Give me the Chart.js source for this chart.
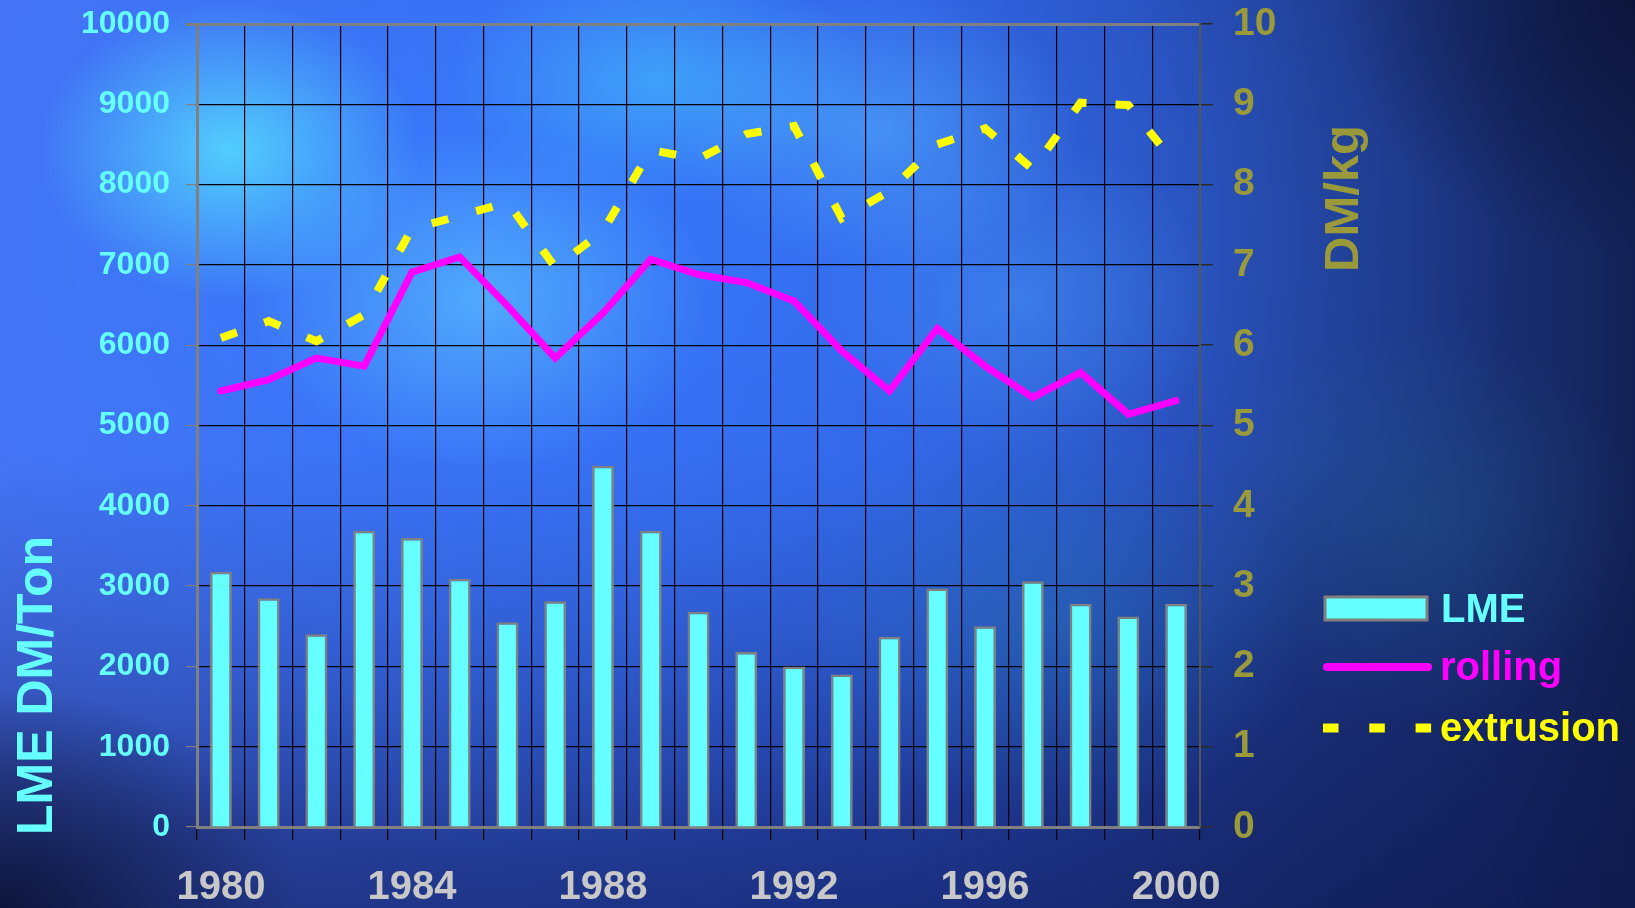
<!DOCTYPE html>
<html>
<head>
<meta charset="utf-8">
<title>LME / rolling / extrusion</title>
<script src="https://cdn.jsdelivr.net/npm/chart.js@4.4.1/dist/chart.umd.min.js"></script>
<style>
  html, body { margin: 0; padding: 0; }
  body {
    width: 1635px;
    height: 908px;
    overflow: hidden;
    background:
      radial-gradient(ellipse 190px 150px at 230px 150px, rgba(90,235,255,0.75), rgba(90,235,255,0)),
      radial-gradient(ellipse 230px 170px at 480px 300px, rgba(100,210,255,0.55), rgba(100,210,255,0)),
      radial-gradient(ellipse 210px 120px at 660px 80px, rgba(70,200,255,0.55), rgba(70,200,255,0)),
      radial-gradient(ellipse 200px 140px at 880px 130px, rgba(90,190,255,0.45), rgba(90,190,255,0)),
      radial-gradient(ellipse 200px 160px at 1020px 300px, rgba(80,170,255,0.35), rgba(80,170,255,0)),
      radial-gradient(ellipse 260px 200px at 1050px 620px, rgba(40,130,190,0.35), rgba(40,130,190,0)),
      radial-gradient(ellipse 220px 200px at 1420px 520px, rgba(40,110,150,0.30), rgba(40,110,150,0)),
      radial-gradient(ellipse 300px 260px at 1635px 0px, rgba(10,16,50,0.75), rgba(10,16,50,0)),
      radial-gradient(ellipse 300px 220px at 0px 908px, rgba(8,12,40,0.8), rgba(8,12,40,0)),
      radial-gradient(ellipse 1000px 620px at 520px 240px, rgba(55,125,255,0.85), rgba(55,125,255,0)),
      linear-gradient(180deg, rgba(0,0,0,0) 50%, rgba(12,20,70,0.6) 100%),
      linear-gradient(90deg, #4a70f0 0%, #3a66ea 30%, #2f58d8 55%, #2647b0 70%, #1f3a8e 80%, #1a3078 90%, #132256 100%);
  }
  #wrap { position: relative; width: 1635px; height: 908px; }
</style>
</head>
<body>
<div id="wrap"><canvas id="priceChart"></canvas></div>
<script>
// values
const years = ['1980', '1981', '1982', '1983', '1984', '1985', '1986', '1987', '1988', '1989', '1990',
               '1991', '1992', '1993', '1994', '1995', '1996', '1997', '1998', '1999', '2000'];
const shownYears = ['1980', '1984', '1988', '1992', '1996', '2000'];

// LME, DM/Ton (left axis)
const lme = [3180, 2850, 2400, 3690, 3600, 3090, 2550, 2810, 4500, 3690, 2680,
             2180, 2000, 1900, 2370, 2970, 2500, 3060, 2780, 2620, 2780];
// rolling and extrusion, DM/kg (right axis)
const rolling = [5.43, 5.57, 5.84, 5.74, 6.91, 7.10, 6.49, 5.84, 6.40, 7.07, 6.88,
                 6.78, 6.55, 5.93, 5.43, 6.21, 5.74, 5.35, 5.66, 5.14, 5.31];
const extrusion = [6.09, 6.30, 6.05, 6.38, 7.45, 7.61, 7.78, 6.97, 7.42, 8.43, 8.32,
                   8.63, 8.73, 7.58, 7.92, 8.50, 8.70, 8.19, 9.02, 8.99, 8.25];

const leftTitle = 'LME DM/Ton';
const rightTitle = 'DM/kg';

const FONT = '"Liberation Sans", Arial, sans-serif';
const CYAN = '#66ffff';
const OLIVE = '#9a9a3a';

// axis titles read bottom-to-top on both sides, so they are drawn here
const axisTitles = {
    id: 'axisTitles',
    afterDraw(chart) {
        const ctx = chart.ctx;
        const area = chart.chartArea;
        ctx.save();
        ctx.font = 'bold 50px ' + FONT;
        ctx.fillStyle = CYAN;
        ctx.textBaseline = 'alphabetic';
        ctx.translate(52, area.bottom + 8);
        ctx.rotate(-Math.PI / 2);
        ctx.fillText(leftTitle, 0, 0);
        ctx.restore();

        ctx.save();
        ctx.font = 'bold 49px ' + FONT;
        ctx.fillStyle = OLIVE;
        ctx.translate(area.right + 158, area.top + 248);
        ctx.rotate(-Math.PI / 2);
        ctx.fillText(rightTitle, 0, 0);
        ctx.restore();
    }
};

// legend on the right, keys taken from the datasets
const sideLegend = {
    id: 'sideLegend',
    afterDraw(chart) {
        const ctx = chart.ctx;
        const x0 = chart.chartArea.right + 125;
        const ds = chart.data.datasets;
        const rows = [608, 667, 728];
        ctx.save();
        ctx.font = 'bold 40px ' + FONT;
        ctx.textBaseline = 'alphabetic';
        ds.forEach((d, i) => {
            const y = rows[i];
            if (d.type === 'bar') {
                ctx.fillStyle = d.backgroundColor;
                ctx.fillRect(x0, y - 11, 102, 23);
                ctx.strokeStyle = d.borderColor;
                ctx.lineWidth = 3;
                ctx.strokeRect(x0, y - 11, 102, 23);
                ctx.fillStyle = d.backgroundColor;
                ctx.fillText(d.label, x0 + 116, y + 14);
            } else {
                ctx.strokeStyle = d.borderColor;
                ctx.lineWidth = d.borderDash ? 9 : 8;
                ctx.lineCap = d.borderDash ? 'butt' : 'round';
                ctx.setLineDash(d.borderDash ? [15.5, 30.8] : []);
                ctx.beginPath();
                const a = d.borderDash ? x0 - 2 : x0 + 2;
                const b = d.borderDash ? x0 + 107 : x0 + 103;
                ctx.moveTo(a, y);
                ctx.lineTo(b, y);
                ctx.stroke();
                ctx.setLineDash([]);
                ctx.fillStyle = d.borderColor;
                ctx.fillText(d.label, x0 + 115, y + 13);
            }
        });
        ctx.restore();
    }
};

// fixed plot box: 197..1200 x 24..827
function fixWidth(w) {
    return s => { s.width = w; s.paddingTop = 0; s.paddingBottom = 0; };
}

const ctx = document.getElementById('priceChart').getContext('2d');
new Chart(ctx, {
    data: {
        labels: years,
        datasets: [
            {
                type: 'bar', label: 'LME', data: lme, yAxisID: 'y', order: 3,
                backgroundColor: CYAN, borderColor: '#808080', borderWidth: 2.5,
                barPercentage: 0.46, categoryPercentage: 1
            },
            {
                type: 'line', label: 'rolling', data: rolling, yAxisID: 'y1', order: 1,
                borderColor: '#ff00ff', borderWidth: 7, pointRadius: 0, tension: 0,
                borderJoinStyle: 'miter', borderCapStyle: 'round', fill: false
            },
            {
                type: 'line', label: 'extrusion', data: extrusion, yAxisID: 'y1', order: 2,
                borderColor: '#ffff00', borderWidth: 8, borderDash: [17, 29], pointRadius: 0, tension: 0,
                borderJoinStyle: 'miter', borderCapStyle: 'butt', fill: false
            }
        ]
    },
    options: {
        responsive: true,
        maintainAspectRatio: false,
        animation: false,
        layout: { padding: { top: 24, left: 0, right: 0, bottom: 0 } },
        plugins: {
            legend: { display: false },
            tooltip: { enabled: false }
        },
        scales: {
            x: {
                type: 'category',
                offset: true,
                afterFit: s => { s.height = 81; s.paddingLeft = 0; s.paddingRight = 0; },
                grid: { color: '#000000', lineWidth: 1.2, tickLength: 13, offset: true },
                border: { color: '#808080', width: 3 },
                ticks: {
                    autoSkip: false, maxRotation: 0, padding: 24,
                    color: '#c8c8c8', font: { family: FONT, size: 40, weight: 'bold' },
                    callback: function (v) {
                        const lab = this.getLabelForValue(v);
                        return shownYears.includes(lab) ? lab : '';
                    }
                }
            },
            y: {
                position: 'left',
                min: 0, max: 10000,
                afterFit: fixWidth(197),
                grid: {
                    color: c => (c.tick && c.tick.value === 10000 ? '#808080' : '#000000'),
                    lineWidth: c => (c.tick && c.tick.value === 10000 ? 3 : 1.2),
                    tickColor: '#808080', tickLength: 11
                },
                border: { color: '#808080', width: 3 },
                ticks: {
                    stepSize: 1000, padding: 16,
                    color: CYAN, font: { family: FONT, size: 32, weight: 'bold' },
                    callback: v => String(v)
                }
            },
            y1: {
                position: 'right',
                min: 0, max: 10,
                afterFit: fixWidth(435),
                grid: { drawOnChartArea: false, color: '#2a2a2a', tickLength: 13, lineWidth: 1.5 },
                border: { color: '#555555', width: 2 },
                ticks: {
                    stepSize: 1, padding: 20,
                    color: OLIVE, font: { family: FONT, size: 39, weight: 'bold' },
                    callback: v => String(v)
                }
            }
        }
    },
    plugins: [axisTitles, sideLegend]
});
</script>
</body>
</html>
